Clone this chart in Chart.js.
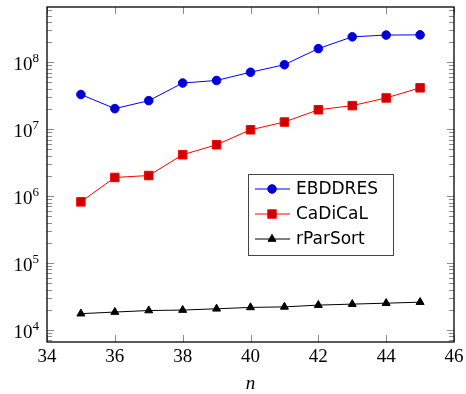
<!DOCTYPE html>
<html>
<head>
<meta charset="utf-8">
<script src="https://cdn.jsdelivr.net/npm/chart.js@4/dist/chart.umd.min.js"></script>
<style>
  html, body { margin: 0; padding: 0; background: #fff; }
  #wrap { width: 466px; height: 394px; }
</style>
</head>
<body>
<div id="wrap"><canvas id="chart" width="466" height="394"></canvas></div>
<script>
// Dados do gráfico
const nValues = [35, 36, 37, 38, 39, 40, 41, 42, 43, 44, 45];
const ebddres = [3.3e7, 2.03e7, 2.67e7, 4.9e7, 5.35e7, 7.1e7, 9.2e7, 1.6e8, 2.4e8, 2.55e8, 2.57e8];
const cadical = [8.2e5, 1.9e6, 2.03e6, 4.15e6, 5.85e6, 9.8e6, 1.28e7, 1.95e7, 2.25e7, 2.93e7, 4.15e7];
const rparsort = [1.75e4, 1.85e4, 1.95e4, 1.98e4, 2.07e4, 2.17e4, 2.21e4, 2.35e4, 2.43e4, 2.51e4, 2.6e4];
const seriesNames = ['EBDDRES', 'CaDiCaL', 'rParSort'];
const xTicks = [34, 36, 38, 40, 42, 44, 46];
const xTitle = 'n';

const serif = '"Liberation Serif", "DejaVu Serif", serif';

function toPoints(ys) {
    return nValues.map((n, i) => ({ x: n, y: ys[i] }));
}

function isPow10(v) {
    const e = Math.round(Math.log10(v));
    return Math.abs(v - Math.pow(10, e)) / v < 1e-9;
}

// ticks internos, rótulos e caixa do gráfico (estilo pgfplots)
const frame = {
    id: 'frame',
    beforeDatasetsDraw(chart) {
        const { ctx, chartArea: a, scales } = chart;
        ctx.save();
        ctx.strokeStyle = '#8c8c8c';
        ctx.lineWidth = 1;
        scales.y.ticks.forEach(t => {
            const y = Math.round(scales.y.getPixelForValue(t.value)) + 0.5;
            const len = isPow10(t.value) ? 7 : 5;
            ctx.beginPath();
            ctx.moveTo(a.left, y); ctx.lineTo(a.left + len, y);
            ctx.moveTo(a.right, y); ctx.lineTo(a.right - len, y);
            ctx.stroke();
        });
        scales.x.ticks.forEach(t => {
            const x = Math.round(scales.x.getPixelForValue(t.value)) + 0.5;
            ctx.beginPath();
            ctx.moveTo(x, a.bottom); ctx.lineTo(x, a.bottom - 7);
            ctx.moveTo(x, a.top); ctx.lineTo(x, a.top + 7);
            ctx.stroke();
        });

        // rótulos
        ctx.fillStyle = '#000';
        ctx.textBaseline = 'alphabetic';
        scales.y.ticks.forEach(t => {
            if (!isPow10(t.value)) return;
            const y = scales.y.getPixelForValue(t.value);
            const e = String(Math.round(Math.log10(t.value)));
            ctx.font = '13px ' + serif;
            const ew = ctx.measureText(e).width;
            ctx.textAlign = 'right';
            ctx.fillText(e, a.left - 8, y);
            ctx.font = '19px ' + serif;
            ctx.fillText('10', a.left - 8 - ew, y + 8);
        });
        ctx.font = '19px ' + serif;
        ctx.textAlign = 'center';
        scales.x.ticks.forEach(t => {
            ctx.fillText(String(t.value), scales.x.getPixelForValue(t.value), a.bottom + 20);
        });
        ctx.font = 'italic 19px ' + serif;
        ctx.fillText(xTitle, (a.left + a.right) / 2, a.bottom + 47);
        ctx.restore();
    },
    afterDraw(chart) {
        const { ctx, chartArea: a } = chart;
        ctx.save();
        ctx.strokeStyle = '#000';
        ctx.lineWidth = 1.3;
        ctx.strokeRect(a.left, a.top, a.right - a.left, a.bottom - a.top);

        // legenda dentro da área
        const bx = 248, by = 174, bw = 145, bh = 81;
        ctx.fillStyle = '#fff';
        ctx.fillRect(bx, by, bw, bh);
        ctx.strokeStyle = '#444';
        ctx.lineWidth = 1;
        ctx.strokeRect(bx + 0.5, by + 0.5, bw, bh);
        ctx.font = '17px "DejaVu Sans", sans-serif';
        ctx.textBaseline = 'middle';
        chart.data.datasets.forEach((ds, i) => {
            const y = by + 15 + i * 25;
            ctx.strokeStyle = ds.borderColor;
            ctx.lineWidth = 1;
            ctx.beginPath();
            ctx.moveTo(bx + 7, y); ctx.lineTo(bx + 42, y);
            ctx.stroke();
            ctx.fillStyle = ds.pointBackgroundColor;
            ctx.strokeStyle = ds.pointBorderColor;
            Chart.helpers.drawPoint(ctx, {
                pointStyle: ds.pointStyle, radius: ds.pointRadius, borderWidth: 1, rotation: 0
            }, bx + 24, y);
            ctx.fillStyle = '#000';
            ctx.fillText(ds.label, bx + 48, y + 1);
        });
        ctx.restore();
    }
};

const config = {
    type: 'line',
    data: {
        datasets: [{
            label: seriesNames[0],
            data: toPoints(ebddres),
            borderColor: '#0000ff',
            borderWidth: 1,
            pointStyle: 'circle',
            pointRadius: 4.3,
            pointBackgroundColor: '#0000cc',
            pointBorderColor: '#0000ff',
            pointBorderWidth: 1
        }, {
            label: seriesNames[1],
            data: toPoints(cadical),
            borderColor: '#ff0000',
            borderWidth: 1,
            pointStyle: 'rect',
            pointRadius: 6,
            pointBackgroundColor: '#cc0000',
            pointBorderColor: '#ff0000',
            pointBorderWidth: 1
        }, {
            label: seriesNames[2],
            data: toPoints(rparsort),
            borderColor: '#000000',
            borderWidth: 1,
            pointStyle: 'triangle',
            pointRadius: 4.6,
            pointBackgroundColor: '#000000',
            pointBorderColor: '#000000',
            pointBorderWidth: 1
        }]
    },
    options: {
        responsive: false,
        animation: false,
        layout: { padding: { top: 2, right: 12, bottom: 0, left: 0 } },
        plugins: { legend: { display: false }, tooltip: { enabled: false } },
        scales: {
            x: {
                type: 'linear',
                min: 34,
                max: 46,
                afterBuildTicks(scale) {
                    scale.ticks = xTicks.map(v => ({ value: v }));
                },
                afterFit(scale) { scale.height = 52; },
                grid: { display: false },
                border: { display: false },
                ticks: { display: false }
            },
            y: {
                type: 'logarithmic',
                min: 6.6e3,
                max: 6.7e8,
                afterBuildTicks(scale) {
                    const ticks = [];
                    for (let e = 3; e <= 8; e++) {
                        for (let d = 1; d <= 9; d++) {
                            const v = d * Math.pow(10, e);
                            if (v >= scale.min && v <= scale.max) ticks.push({ value: v, major: d === 1 });
                        }
                    }
                    scale.ticks = ticks;
                },
                afterFit(scale) { scale.width = 47; },
                grid: { display: false },
                border: { display: false },
                ticks: { display: false }
            }
        }
    },
    plugins: [frame]
};

new Chart(document.getElementById('chart'), config);
</script>
</body>
</html>
